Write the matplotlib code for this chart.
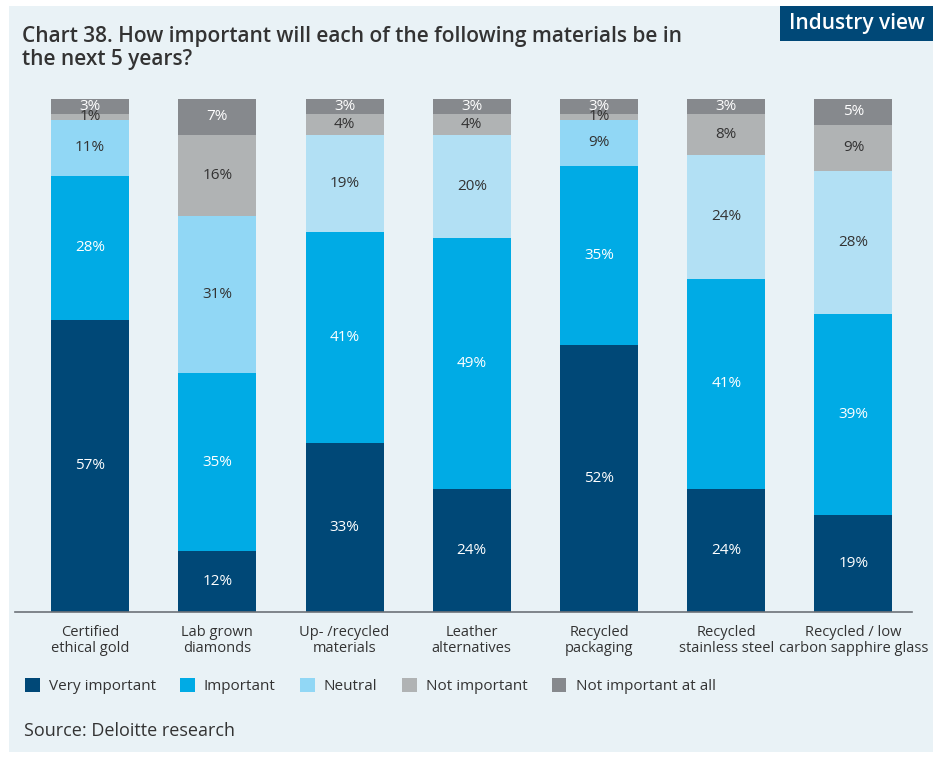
import matplotlib.pyplot as plt
import numpy as np
from matplotlib.patches import Rectangle, Patch

plt.rcParams['font.family'] = ['Open Sans', 'DejaVu Sans']

# data
categories = ["Certified\nethical gold", "Lab grown\ndiamonds", "Up- /recycled\nmaterials",
              "Leather\nalternatives", "Recycled\npackaging", "Recycled\nstainless steel",
              "Recycled / low\ncarbon sapphire glass"]
series_names = ["Very important", "Important", "Neutral", "Not important", "Not important at all"]
very_important = [57, 12, 33, 24, 52, 24, 19]
important = [28, 35, 41, 49, 35, 41, 39]
neutral = [11, 31, 19, 20, 9, 24, 28]
not_important = [1, 16, 4, 4, 1, 8, 9]
not_at_all = [3, 7, 3, 3, 3, 3, 5]

series = [very_important, important, neutral, not_important, not_at_all]
colors = ["#004877", "#00abe5", "#91d7f5", "#b0b3b4", "#86898d"]
neutral_cols = ["#91d7f5", "#91d7f5", "#b2e0f4", "#b2e0f4", "#91d7f5", "#b2e0f4", "#b2e0f4"]
txt_cols = ["white", "white", "#333333", "#333333", "white"]

bg = "#e9f2f6"
W, H = 933, 757
fig = plt.figure(figsize=(W / 100, H / 100), dpi=100)
fig.patch.set_facecolor("white")
fig.patches.append(Rectangle((9 / W, 5 / H), 1, 1 - 11 / H, transform=fig.transFigure,
                             facecolor=bg, edgecolor="none", zorder=-10))

ax = fig.add_axes([15 / W, 1 - 612 / H, (912 - 15) / W, (612 - 99) / H])
ax.set_facecolor("none")

x = np.arange(len(categories))
data = np.array(series, dtype=float)
totals = data.sum(axis=0)
bottom = np.zeros(len(categories))
for i, vals in enumerate(data):
    h = vals / totals * 100
    cols = neutral_cols if i == 2 else colors[i]
    ax.bar(x, h, 0.613, bottom=bottom, color=cols, edgecolor="none", zorder=2)
    for xi, hi, bi, v in zip(x, h, bottom, vals):
        ax.text(xi, bi + hi / 2, f"{int(v)}%", ha="center", va="center",
                color=txt_cols[i], fontsize=11, zorder=3)
    bottom += h

ax.set_xlim(-0.59, 6.46)
ax.set_ylim(0, 100)
ax.set_yticks([])
ax.set_xticks(x, categories, fontsize=10.5, color="#333333", linespacing=1.1)
ax.tick_params(axis="x", length=0, pad=9)
for s in ["top", "right", "left"]:
    ax.spines[s].set_visible(False)
ax.spines["bottom"].set_color("#6d7278")
ax.spines["bottom"].set_linewidth(1.2)

handles = [Patch(facecolor=c, edgecolor="none") for c in colors]
fig.legend(handles, series_names, loc="center left", bbox_to_anchor=(25 / W, 1 - 686 / H),
           ncol=5, frameon=False, fontsize=11, handlelength=0.95, handleheight=1.1,
           handletextpad=0.6, columnspacing=1.6, borderpad=0, borderaxespad=0,
           labelcolor="#333333")

fig.text(22 / W, 1 - 48 / H, "Chart 38. How important will each of the following materials be in\nthe next 5 years?",
         ha="left", va="center", fontsize=15, fontweight="semibold", color="#333333", linespacing=1.15)
fig.text(24 / W, 1 - 731 / H, "Source: Deloitte research", ha="left", va="center",
         fontsize=13, color="#333333")

fig.patches.append(Rectangle((780 / W, 1 - 41 / H), 1, 35 / H, transform=fig.transFigure,
                             facecolor="#004877", edgecolor="none", zorder=1))
fig.text(857 / W, 1 - 23 / H, "Industry view", ha="center", va="center",
         fontsize=15, fontweight="semibold", color="white")

fig.savefig("out.png", dpi=100, facecolor=fig.get_facecolor())
